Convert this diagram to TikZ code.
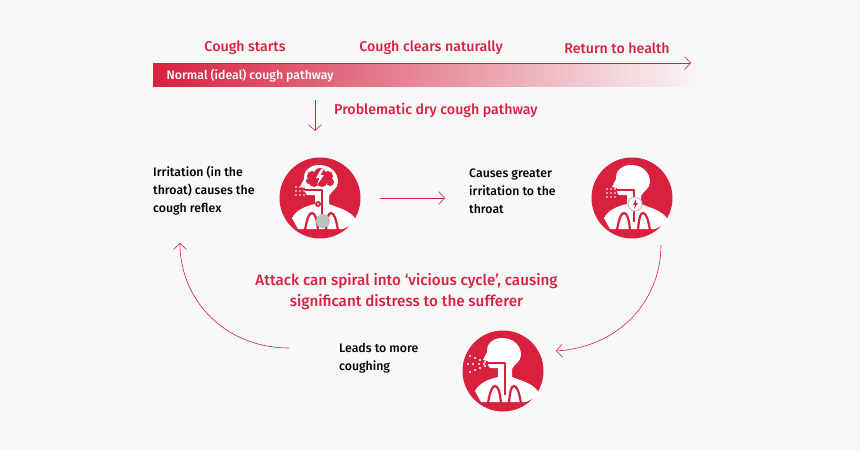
\documentclass[tikz,border=0pt]{standalone}
\usepackage{fontspec}
\setmainfont{Fira Sans}[UprightFont=* Medium,BoldFont=* SemiBold]
\usetikzlibrary{arrows.meta}
\definecolor{cough}{HTML}{D8213F}
\definecolor{pagebg}{HTML}{F8F8F8}
\tikzset{%
    arr/.style={cough,line width=0.6pt,-{Straight Barb[length=6pt,width=13pt]}},
    hdg/.style={text=cough,font=\fontsize{14.2}{16}\selectfont,inner sep=0pt},
    big/.style={text=cough,font=\fontsize{15.2}{21}\selectfont,inner sep=0pt,align=center},
    txt/.style={text=black,font=\fontsize{12.3}{18}\selectfont,inner sep=0pt,align=left,anchor=west},
    ico/.style={circle,fill=cough,inner sep=0pt,minimum size=81pt},
    airway/.style={draw=cough,line width=1.3pt,line join=round},
    lung/.style={draw=cough,line width=2.2pt},
    puff/.style={circle,fill=#1,inner sep=0pt,minimum size=2.2pt},
    pics/person/.style={code={
        \fill[white] (-1,-33) .. controls (10,-33) and (18,-26) .. (18,-16)
            .. controls (18,-9) and (11,-7) .. (9,-2) -- (9,6)
            .. controls (18,10) and (32,12) .. (37,24) -- (23,31) -- (-22,31) -- (-28,20)
            .. controls (-24,12) and (-14,8) .. (-5,6) -- (-5,-3) -- (-13,-3)
            .. controls (-15,-3) and (-14,-6) .. (-15,-7) -- (-15,-10)
            -- (-20,-11) -- (-16,-19) .. controls (-17,-26) and (-11,-33) .. (-1,-33) -- cycle;
        \draw[airway] (-16,-8) -- (2,-8) -- (2,24);
        \draw[lung] (-15,32) .. controls (-13,21) and (-11,15) .. (-8,15)
            .. controls (-5,15) and (-3,21) .. (-2,32);
        \draw[lung] (6,32) .. controls (7,21) and (8,15) .. (11,15)
            .. controls (14,15) and (16,21) .. (18,32);
    }}
}
\begin{document}
\begin{tikzpicture}[x=1pt,y=-1pt]
    \useasboundingbox (0,0) rectangle (860,450);
    \fill[pagebg] (0,0) rectangle (860,450);

    % top bar
    \node[inner sep=0pt,minimum width=552pt,minimum height=23pt,anchor=north west,left color=cough,right color=pagebg] (bar) at (153,63){};
    \coordinate (bartip) at (691,63);
    \draw[arr] (bar.north west) -- (bartip);
    \node[hdg] (starts) at (245,48){Cough starts};
    \node[hdg] (clears) at (431,48){Cough clears naturally};
    \node[hdg] (health) at (617,48){Return to health};
    \node[text=white,font=\fontsize{12.3}{14}\selectfont,inner sep=0pt,anchor=west] (normal) at (166.5,76){Normal (ideal) cough pathway};
    \coordinate (downtop) at (315,100);
    \coordinate (downend) at (315,131);
    \draw[arr] (downtop) -- (downend);
    \node[hdg,anchor=west] (problem) at (334,110){Problematic dry cough pathway};

    % icons
    \node[ico] (irr) at (320,198){};
    \node[ico] (cause) at (632,198){};
    \node[ico] (more) at (503,371){};
    \pic at (irr) {person};
    \pic at (cause) {person};
    \pic at (more) {person};

    % icon 1: brain and spark
    \foreach \px/\py/\pr in {312/176/5,320/174/6,328/176/5,330/182/4,322/182/5,314/182/5,309/181/3}{
        \fill[cough] (\px,\py) circle (\pr);
    }
    \fill[white] (321,169) -- (316,178) -- (319.5,178) -- (317,185) -- (324,175) -- (320.5,175) -- (324,169) -- cycle;
    \fill[cough] (318,204) circle (3);
    \fill[white] (318,204) circle (1);
    \fill[lightgray] (323,221) circle (7);
    \foreach \px in {296,300,304}{
        \foreach \py in {187,191,195}{
            \node[puff=white!70!cough] at (\px,\py){};
        }
    }

    % icon 2: irritated throat
    \draw[lightgray,line width=1pt,fill=white] (635,204) circle (7);
    \fill[cough] (636,199) -- (633,205) -- (635,205) -- (634,209) -- (638,203) -- (636,203) -- cycle;
    \foreach \px in {607,611,615}{
        \foreach \py in {189,193,197}{
            \node[puff=white!70!cough] at (\px,\py){};
        }
    }

    % icon 3: droplets
    \foreach \px/\py in {470/356,475/358,480/360,485/362,468/364,473/364,479/364,484/364,470/372,475/370,480/368,485/366}{
        \node[puff=white] at (\px,\py){};
    }

    % texts
    \node[txt] (irrtxt) at (153,191){Irritation (in the\\throat) causes the\\cough reflex};
    \node[txt] (causetxt) at (469,191){Causes greater\\irritation to the\\throat};
    \node[txt] (moretxt) at (339,358){Leads to more\\coughing};
    \node[big] (spiral) at (406.5,291.5){Attack can spiral into ‘vicious cycle’, causing\\significant distress to the sufferer};

    % cycle arrows
    \draw[arr,shorten <=19pt,shorten >=24pt] (irr) -- (irr -| causetxt.west);
    \coordinate (rstart) at (661,245);
    \coordinate (rend) at (556,351);
    \coordinate (lstart) at (289,348);
    \coordinate (lend) at (180,243);
    \draw[arr] (rstart) .. controls (661,300) and (620,347) .. (rend);
    \draw[arr] (lstart) .. controls (225,348) and (180,300) .. (lend);
\end{tikzpicture}
\end{document}
